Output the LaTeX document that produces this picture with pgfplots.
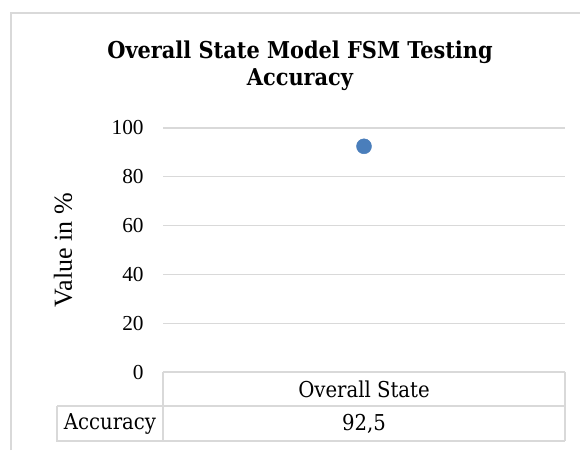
\documentclass[border=0pt]{standalone}
\usepackage{pgfplots}
\pgfplotsset{compat=1.18}
\usepackage{fontspec}
\setmainfont{Liberation Serif}
\newfontfamily\cambria{DejaVu Serif Condensed}
\definecolor{gridc}{RGB}{217,217,217}
\definecolor{dotc}{RGB}{74,126,187}
\begin{document}
\begin{tikzpicture}[x=0.75pt,y=-0.75pt]
\useasboundingbox (0,0) rectangle (580,450);
\fill[white] (0,0) rectangle (580,450);
\draw[gridc, line width=1.1pt] (11,450) -- (11,13) -- (580,13);
\node[font=\cambria\bfseries\fontsize{17.4}{20.5}\selectfont, align=center] at (300,65.5) {Overall State Model FSM Testing\\Accuracy};
\begin{axis}[
  at={(163pt*0.75,-372pt*0.75)}, anchor=south west,
  scale only axis, width=301.5pt, height=183pt,
  xmin=0, xmax=1, ymin=0, ymax=100,
  ytick={0,20,40,60,80,100}, xtick=\empty,
  ymajorgrids, grid style={gridc, line width=0.9pt},
  axis line style={draw=none}, major tick style={draw=none},
  /pgf/number format/assume math mode=true,
  yticklabel style={font=\fontsize{16}{18}\selectfont, xshift=-11pt},
  ylabel={Value in \%},
  ylabel style={font=\fontsize{19.5}{22}\selectfont, at={(axis description cs:0,0.5)}, anchor=center, yshift=75pt},
  clip=false,
]
\addplot[only marks, mark=*, mark size=5.6pt, color=dotc] coordinates {(0.5,92.5)};
\end{axis}
\begin{scope}[gridc, line width=0.9pt]
\draw (163,372) -- (565,372);
\draw (163,372) -- (163,441);
\draw (565,372) -- (565,441);
\draw (57,406) -- (565,406);
\draw (57,406) -- (57,441) -- (565,441);
\end{scope}
\begin{scope}[font=\cambria\fontsize{16.4}{19}\selectfont]
\node at (364,389) {Overall State};
\node at (110,424) {Accuracy};
\node at (364,424) {92,5};
\end{scope}
\end{tikzpicture}
\end{document}
